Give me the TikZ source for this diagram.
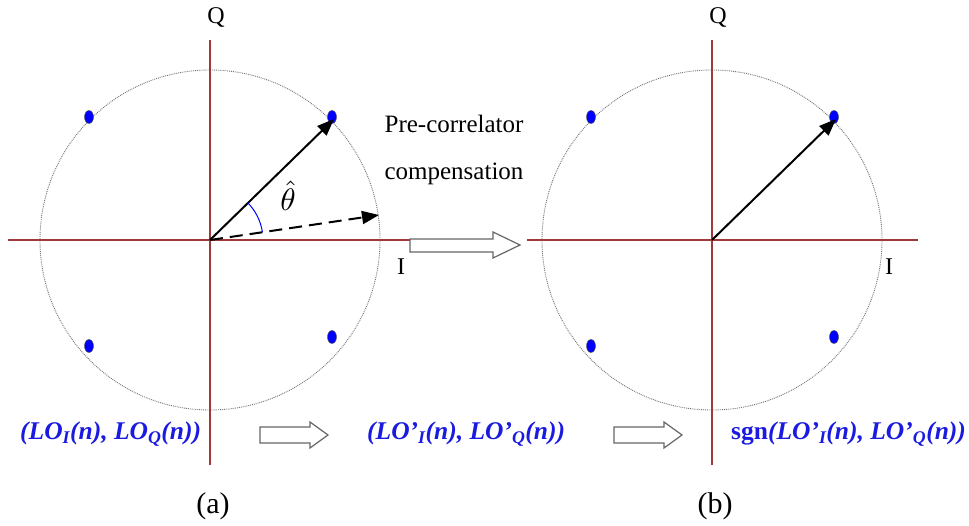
\documentclass[tikz,border=0pt]{standalone}
\usepackage{fontspec}
\setmainfont{Liberation Serif}
\usetikzlibrary{arrows.meta,shapes.geometric}
\definecolor{axisred}{HTML}{A03A3A}
\definecolor{lblue}{HTML}{1A1AE0}
\tikzset{
  axis/.style={draw=axisred, line width=1.3pt},
  circ/.style={draw=black!55, densely dotted, line width=0.9pt},
  pt/.style={ellipse, fill=blue, draw=black!70, line width=0.4pt, minimum width=9pt, minimum height=13pt, inner sep=0pt},
  vec/.style={draw=black, line width=2pt, -{Triangle[length=17pt,width=13pt]}},
  dvec/.style={draw=black, line width=2pt, dash pattern=on 13pt off 7pt, -{Triangle[length=17pt,width=13pt]}},
  lbl/.style={font=\fontsize{24}{28}\selectfont},
  captxt/.style={font=\fontsize{30}{34}\selectfont},
  hollow/.style={draw=black!60, fill=white, line width=1.2pt, line join=miter},
  eq/.style={font=\fontsize{25.5}{30}\selectfont\bfseries\itshape, text=lblue, anchor=west, inner sep=0pt}
}
\begin{document}
\begin{tikzpicture}[x=1pt,y=-1pt]
\useasboundingbox (0,0) rectangle (969,526);
% ---------- left diagram ----------
\coordinate (oA) at (210,240);
\draw[circ] (oA) circle[radius=170pt];
\draw[axis] (8,240) coordinate (hAl) -- (410,240) coordinate (hAr);
\draw[axis] (210,40) coordinate (vAt) -- (210,465) coordinate (vAb);
\node[lbl] (qA) at (216,18) {Q};
\node[lbl] (iA) at (401,267) {I};
\node[pt] (dA1) at (89,117) {};
\node[pt] (dA2) at (332,117) {};
\node[pt] (dA3) at (89,346) {};
\node[pt] (dA4) at (332,337) {};
\coordinate (tipA) at (334,119);
\coordinate (tipD) at (379,215);
\draw[vec] (oA) -- (tipA);
\draw[dvec] (oA) -- (tipD);
\draw[blue, line width=1pt] (oA) ++(-8.5:53) arc[start angle=8.5, end angle=45, radius=53pt];
\node[scale=3.1, inner sep=0pt] (th) at (288,196) {$\hat{\theta}$};
% ---------- middle ----------
\node[font=\fontsize{25}{29}\selectfont] (pc1) at (454,124) {Pre-correlator};
\node[font=\fontsize{25}{29}\selectfont] (pc2) at (454,174) {compensation};
\draw[hollow] (410,239) -- (493,239) -- (493,232) -- (520,245) -- (493,258) -- (493,252) -- (410,252) -- cycle;
% ---------- right diagram ----------
\coordinate (oB) at (712,240);
\draw[circ] (oB) circle[radius=170pt];
\draw[axis] (527,240) -- (918,240);
\draw[axis] (712,40) -- (712,465);
\node[lbl] (qB) at (718,18) {Q};
\node[lbl] (iB) at (889,267) {I};
\node[pt] (dB1) at (591,117) {};
\node[pt] (dB2) at (834,117) {};
\node[pt] (dB3) at (591,346) {};
\node[pt] (dB4) at (834,337) {};
\coordinate (tipB) at (836,119);
\draw[vec] (oB) -- (tipB);
% ---------- bottom ----------
\node[eq] (e1) at (20,434) {(\textit{LO}\textsubscript{\textit{I}}(\textit{n}), \textit{LO}\textsubscript{\textit{Q}}(\textit{n}))};
\node[eq] (e2) at (367,434) {(\textit{LO'}\textsubscript{\textit{I}}(\textit{n}), \textit{LO'}\textsubscript{\textit{Q}}(\textit{n}))};
\node[eq] (e3) at (731,434) {{\upshape sgn}(\textit{LO'}\textsubscript{\textit{I}}(\textit{n}), \textit{LO'}\textsubscript{\textit{Q}}(\textit{n}))};
\draw[hollow] (260,427) -- (310,427) -- (310,422) -- (328,435) -- (310,448) -- (310,443) -- (260,443) -- cycle;
\draw[hollow] (614,427) -- (664,427) -- (664,422) -- (682,435) -- (664,448) -- (664,443) -- (614,443) -- cycle;
\node[captxt] (ca) at (213,506) {(a)};
\node[captxt] (cb) at (715,506) {(b)};
\end{tikzpicture}
\end{document}
